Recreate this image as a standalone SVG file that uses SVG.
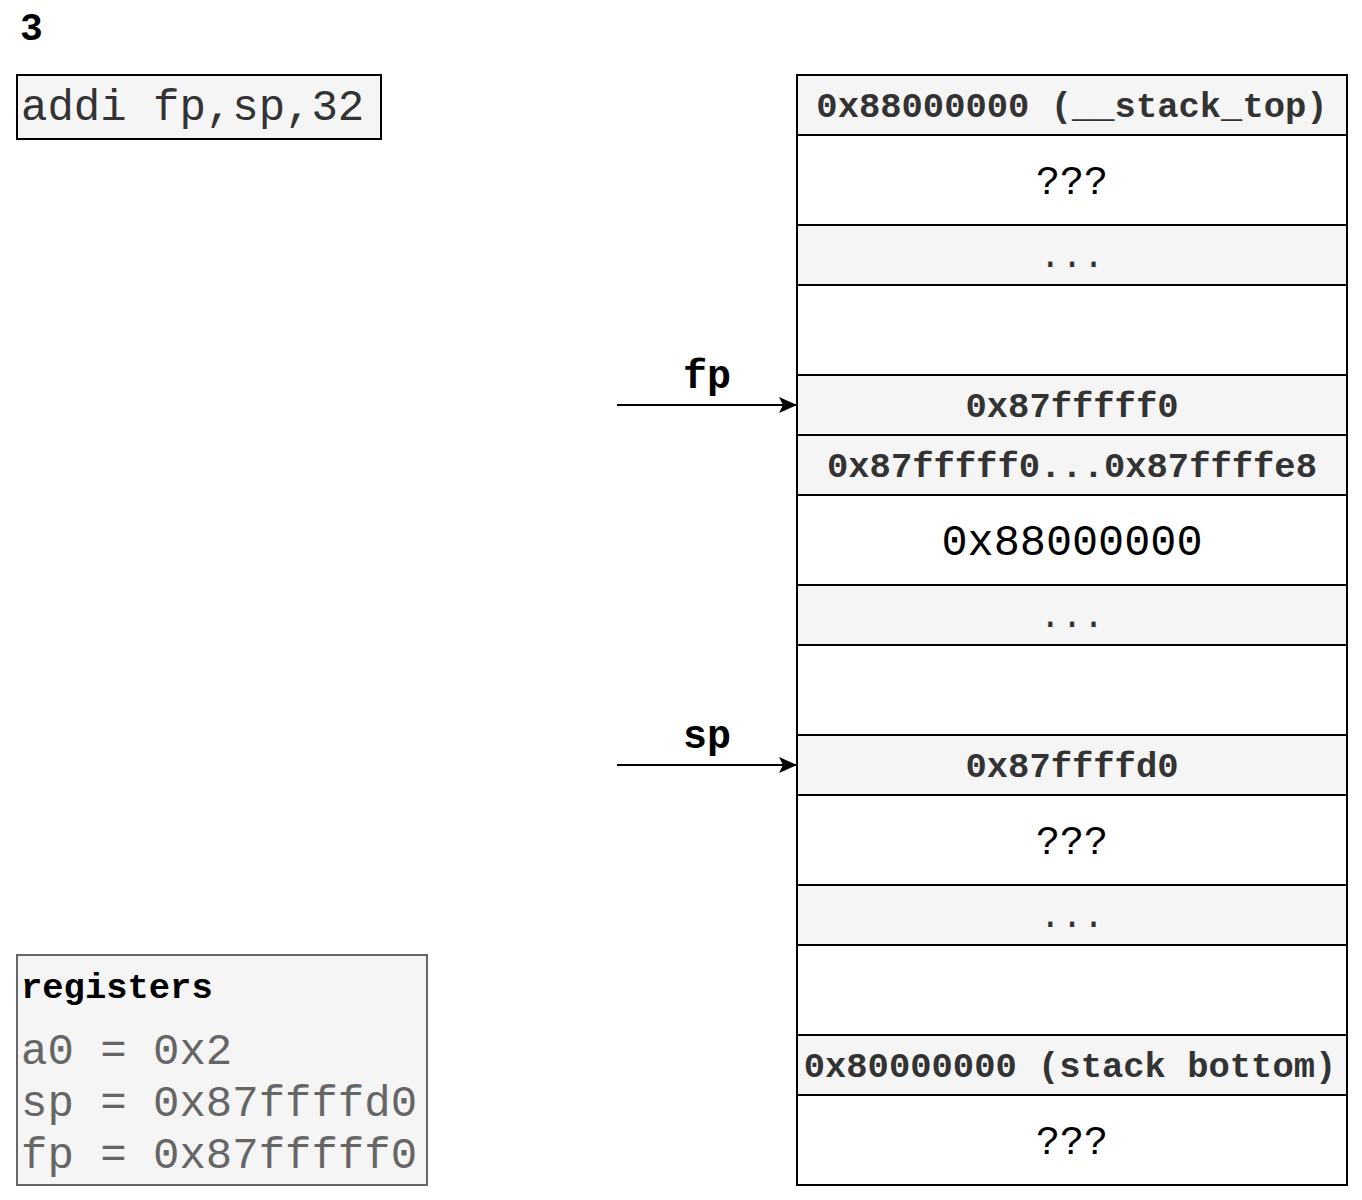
<svg xmlns="http://www.w3.org/2000/svg" width="1362" height="1200" viewBox="0 0 1362 1200">
<defs>
<marker id="arr" viewBox="0 0 18 16" refX="17" refY="8" markerWidth="18" markerHeight="16" markerUnits="userSpaceOnUse" orient="auto"><path d="M0,0 L18,8 L0,16 L4,8 Z" fill="#000"/></marker>
<style>
text{font-family:"Liberation Mono","Courier New",monospace}
.g{fill:#f5f5f5;stroke:#000;stroke-width:2}
.w{fill:#fff;stroke:#000;stroke-width:2}
.b{font-weight:bold;font-size:35.5px;fill:#333;text-anchor:middle}
.r{font-size:43.5px;fill:#000;text-anchor:middle}
.q{font-size:40px;fill:#000;text-anchor:middle}
.d{font-size:36px;fill:#333;text-anchor:middle}
.lbl{font-weight:bold;font-size:40px;fill:#000;text-anchor:middle}
.reg{font-size:44px;fill:#666}
</style>
</defs>
<rect width="1362" height="1200" fill="#fff"/>
<g id="title"><text x="20" y="40" style="font-weight:bold;font-size:38px;fill:#000">3</text></g>
<g id="instr"><rect x="17" y="75" width="364" height="64" fill="#f5f5f5" stroke="#000" stroke-width="2"/><text x="21" y="120" style="font-size:44px;fill:#333">addi fp,sp,32</text></g>
<g id="stack">
<g id="s1"><rect class="g" x="797" y="75" width="550" height="60"/><text class="b" x="1072" y="117">0x88000000 (__stack_top)</text></g>
<g id="s2"><rect class="w" x="797" y="135" width="550" height="90"/><text class="q" x="1072" y="194">???</text></g>
<g id="s3"><rect class="g" x="797" y="225" width="550" height="60"/><text class="d" x="1072" y="267">...</text></g>
<g id="s4"><rect class="w" x="797" y="285" width="550" height="90"/></g>
<g id="s5"><rect class="g" x="797" y="375" width="550" height="60"/><text class="b" x="1072" y="417">0x87fffff0</text></g>
<g id="s6"><rect class="g" x="797" y="435" width="550" height="60"/><text class="b" x="1072" y="477">0x87fffff0...0x87ffffe8</text></g>
<g id="s7"><rect class="w" x="797" y="495" width="550" height="90"/><text class="r" x="1072" y="555">0x88000000</text></g>
<g id="s8"><rect class="g" x="797" y="585" width="550" height="60"/><text class="d" x="1072" y="627">...</text></g>
<g id="s9"><rect class="w" x="797" y="645" width="550" height="90"/></g>
<g id="s10"><rect class="g" x="797" y="735" width="550" height="60"/><text class="b" x="1072" y="777">0x87ffffd0</text></g>
<g id="s11"><rect class="w" x="797" y="795" width="550" height="90"/><text class="q" x="1072" y="854">???</text></g>
<g id="s12"><rect class="g" x="797" y="885" width="550" height="60"/><text class="d" x="1072" y="927">...</text></g>
<g id="s13"><rect class="w" x="797" y="945" width="550" height="90"/></g>
<g id="s14"><rect class="g" x="797" y="1035" width="550" height="60"/><text class="b" x="1070" y="1077">0x80000000 (stack bottom)</text></g>
<g id="s15"><rect class="w" x="797" y="1095" width="550" height="90"/><text class="q" x="1072" y="1154">???</text></g>
</g>
<g id="connectors">
<line x1="617" y1="405" x2="796" y2="405" stroke="#000" stroke-width="2" marker-end="url(#arr)"/>
<line x1="617" y1="765" x2="796" y2="765" stroke="#000" stroke-width="2" marker-end="url(#arr)"/>
<text class="lbl" x="707" y="388">fp</text>
<text class="lbl" x="707" y="748">sp</text>
</g>
<g id="registers">
<rect x="17" y="955" width="410" height="230" fill="#f5f5f5" stroke="#666" stroke-width="2"/>
<text x="21" y="998" style="font-weight:bold;font-size:35.5px;fill:#000">registers</text>
<text class="reg" x="21" y="1064">a0 = 0x2</text>
<text class="reg" x="21" y="1116">sp = 0x87ffffd0</text>
<text class="reg" x="21" y="1168">fp = 0x87fffff0</text>
</g>
</svg>
